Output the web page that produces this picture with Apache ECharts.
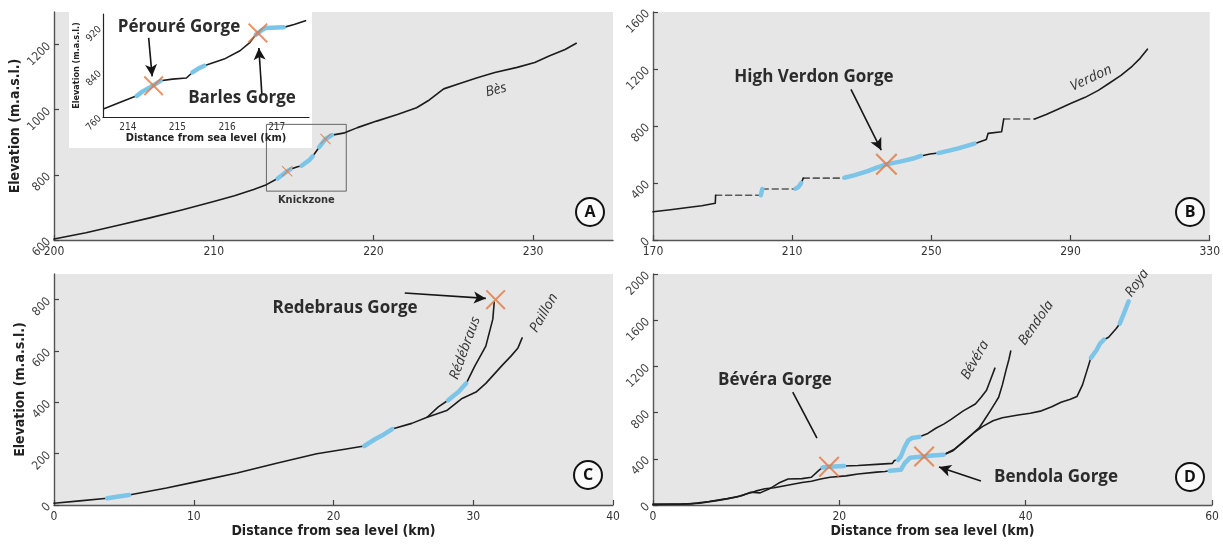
<!DOCTYPE html>
<html><head><meta charset="utf-8">
<script src="https://cdn.jsdelivr.net/npm/echarts@6/dist/echarts.min.js"></script>
<style>html,body{margin:0;padding:0;background:#fff}#c{width:1223px;height:545px}</style>
</head><body><div id="c"></div>
<script>
// ---------------- DATA ----------------
// Panel A – Bès long profile (km from sea, m a.s.l.)
const besProfile = [[200,603],[202,622],[204.1,646],[206,668],[208,692],[210,718],[211.3,736],[212.5,755],[213.3,770],[214.0,789],[214.6,811],[214.8,817],[215.2,824],[215.5,828],[216.0,846],[216.2,857],[216.6,885],[217.0,910],[217.4,922],[218.2,929],[219,945],[220.2,965],[221.5,985],[222.7,1006],[223.5,1030],[224.4,1064],[225.5,1082],[226.5,1098],[227.6,1114],[229,1130],[230.1,1145],[231,1165],[232,1185],[232.7,1204]];
const besReaches = [[214.0,214.8],[215.5,216.2],[216.6,217.4]];
const besGorges = [[214.6,811],[217.0,910]];
const knickzone = [[213.3,955],[218.3,750]];
const besTicksX = [200,210,220,230];
const besTicksY = [600,800,1000,1200];
// Inset – knickzone detail
const besDetail = [[213.52,775],[213.86,787],[214.18,798],[214.3,806],[214.46,814],[214.66,825],[214.9,828],[215.18,830],[215.3,840],[215.42,847],[215.54,852],[215.94,864],[216.26,879],[216.45,893],[216.58,908],[216.7,916],[216.78,920],[217.14,921],[217.35,926],[217.58,933]];
const besDetailReaches = [[214.18,214.66],[215.3,215.54],[216.58,217.14]];
const besDetailGorges = [[214.52,816],[216.62,911]];
const detailTicksX = [214,215,216,217];
const detailTicksY = [760,840,920];
// Panel B – Verdon (null = reservoir gap)
const verdonRiver = [[170,198],[175,212],[180,228],[184,240],[187.9,258],[188.0,314],null,
  [201.0,314],[201.4,358],null,
  [211.0,360],[211.8,372],[212.6,400],[213.2,434],null,
  [225.0,437],[228,455],[231.7,483],[234.5,510],[237.1,531],[241,550],[245.1,574],[247,590],[249.6,603],[252,610],[255.1,627],[258,645],[262.4,676],[265.8,705],[266.3,748],[270.2,760],[270.8,849],null,
  [279.7,849],[283,880],[286.4,917],[290,958],[294.2,1001],[298,1050],[301,1098],[304.5,1155],[307.7,1219],[310,1275],[312.1,1339]];
const verdonLakes = [[188.0,314],[201.0,314],null,[201.4,358],[211.0,358],null,[213.2,434],[225.0,434],null,[270.8,849],[279.7,849]];
const verdonReaches = [[201.0,201.4],[211.0,212.6],[225.0,247],[252,262.4]];
const verdonGorges = [[237.1,531]];
const verdonTicksX = [170,210,250,290,330];
const verdonTicksY = [0,400,800,1200,1600];
// Panel C – Paillon & Rédébraus
const paillon = [[0,7],[1.84,16],[3.81,26],[4.5,32],[5.37,39],[8.05,66],[10.3,92],[13.1,125],[16.0,164],[18.8,200],[20.8,217],[22.2,230],[23.0,257],[23.6,275],[24.2,296],[25.6,318],[26.7,342],[28.1,368],[29.2,415],[30.2,440],[30.9,474],[31.5,510],[32.1,546],[32.7,580],[33.2,612],[33.5,651]];
const redebraus = [[26.7,342],[27.5,382],[28.2,408],[28.95,441],[29.5,474],[30.1,540],[30.9,619],[31.4,724],[31.5,790]];
const paillonReaches = [[3.81,5.37],[22.2,24.2]];
const redebrausReaches = [[28.2,29.5]];
const cGorges = [[31.6,800]];
const cTicksX = [0,10,20,30,40];
const cTicksY = [0,200,400,600,800];
// Panel D – Roya, Bévéra, Bendola
const roya = [[0,5],[3,8],[5,15],[7,40],[9,70],[10,95],[11,120],[12,140],[13,150],[14,165],[15,180],[16,195],[17,205],[18,225],[19,240],[20.7,252],[22,268],[24,285],[24.9,290],[25.4,296],[26.6,305],[27.0,360],[27.6,410],[28.7,417],[29.1,420],[30,428],[31.2,435],[32.3,480],[33.3,545],[34.5,630],[35.4,681],[36.5,730],[37.5,756],[39.2,779],[40.5,795],[41.7,815],[42.8,850],[43.8,889],[44.8,915],[45.5,939],[46.1,1040],[46.6,1170],[47.0,1274],[47.6,1340],[48.0,1400],[48.4,1431],[48.9,1452],[49.7,1526],[50.1,1570],[50.6,1670],[51.05,1763]];
const bendola = [[31.2,435],[32.2,470],[33.3,548],[34.2,610],[35,667],[35.6,740],[36.2,815],[36.7,880],[37.1,933],[37.5,1040],[37.9,1170],[38.2,1260],[38.4,1333]];
const bevera = [[0,5],[4,10],[6,30],[8,55],[9.5,80],[10.5,110],[11.5,105],[12.5,140],[13.5,190],[14.5,225],[16,228],[17,240],[17.8,300],[18.2,325],[18.9,332],[20.5,338],[22,342],[24,352],[25.7,360],[25.9,385],[26.3,390],[26.6,420],[27.0,500],[27.4,560],[27.8,580],[28.6,590],[29.5,620],[30.4,667],[31.2,700],[32,741],[33.3,815],[34.6,874],[35.2,930],[35.8,993],[36.3,1100],[36.7,1185]];
const royaReaches = [[25.4,31.2],[47.0,48.4],[50.1,51.05]];
const beveraReaches = [[18.2,20.5],[26.3,28.6]];
const dGorges = [[18.9,332],[29.1,420]];
const dTicksX = [0,20,40,60];
const dTicksY = [0,400,800,1200,1600,2000];

// ---------------- BUILD ----------------
const BLACK = '#1c1c1c', BLUE = '#7dc5e8', ORANGE = '#e5763f', DASH = '#5a5a5a';
const XPATH = 'path://M0,1.4L1.4,0L10,8.6L18.6,0L20,1.4L11.4,10L20,18.6L18.6,20L10,11.4L1.4,20L0,18.6L8.6,10Z';
const FONT = "'Liberation Sans Narrow','DejaVu Sans Condensed','Open Sans',sans-serif";

function split(arr){const out=[];let cur=[];arr.forEach(p=>{if(p===null){if(cur.length)out.push(cur);cur=[];}else cur.push(p);});if(cur.length)out.push(cur);return out;}
function reaches(profile, ranges){const out=[];split(profile).forEach(seg=>{ranges.forEach(r=>{const pts=seg.filter(p=>p[0]>=r[0]-1e-9&&p[0]<=r[1]+1e-9);if(pts.length>1)out.push(pts);});});return out;}
const series=[];
function line(ax,data,color,width,z,type){series.push({type:'line',xAxisIndex:ax,yAxisIndex:ax,data:data,symbol:'none',silent:true,animation:false,z:z,
  lineStyle:{color:color,width:width,type:type||'solid',cap:'round',join:'round'}});return series[series.length-1];}
function river(ax,profile,rng,z){split(profile).forEach(s=>line(ax,s,BLACK,1.6,z||3));reaches(profile,rng).forEach(s=>line(ax,s,BLUE,4.5,(z||3)+1));}
function gorges(ax,pts,size,z){const s={type:'scatter',xAxisIndex:ax,yAxisIndex:ax,data:pts,symbol:XPATH,symbolSize:size,silent:true,animation:false,z:z||6,itemStyle:{color:ORANGE}};series.push(s);return s;}
function arrows(s,list,head){s.markLine={silent:true,animation:false,symbol:['none',head===false?'none':'arrow'],symbolSize:[9,12],label:{show:false},
  lineStyle:{color:'#151515',width:1.6,type:'solid'},data:list.map(a=>[{coord:a[0]},{coord:a[1]}])};}

// A
river(0,besProfile,besReaches);
series[0].markArea={silent:true,animation:false,itemStyle:{color:'rgba(0,0,0,0)',borderColor:'#666',borderWidth:1},
  label:{show:true,position:'bottom',formatter:'Knickzone',color:'#333',fontSize:11,fontWeight:'bold',fontFamily:FONT,distance:3},
  data:[[{coord:knickzone[0]},{coord:knickzone[1]}]]};
gorges(0,besGorges,11);
// inset
river(4,besDetail,besDetailReaches,12);
const gi=gorges(4,besDetailGorges,20,15);
arrows(gi,[[[214.42,902],[214.49,833]],[[216.7,801],[216.64,884]]]);
// B
split(verdonLakes).forEach(s=>line(1,s,DASH,1.6,2,[6,4]));
river(1,verdonRiver,verdonReaches);
arrows(gorges(1,verdonGorges,22),[[[226.9,1057],[235.6,630]]]);
// C
river(2,paillon,paillonReaches);
river(2,redebraus,redebrausReaches);
arrows(gorges(2,cGorges,20),[[[25.1,826],[30.9,805]]]);
// D
river(3,roya,royaReaches);
river(3,bendola,[]);
river(3,bevera,beveraReaches);
const gd=gorges(3,dGorges,21);
gd.markLine={silent:true,animation:false,symbol:['none','none'],label:{show:false},lineStyle:{color:'#151515',width:1.6,type:'solid'},data:[[{coord:[15.0,978]},{coord:[17.6,580]}]]};
const gd2=gorges(3,[],1); arrows(gd2,[[[35.2,207],[30.7,330]]]);

const plain=v=>String(v);
const axisLine={show:true,lineStyle:{color:'#555',width:1.4}};
const tick={show:true,inside:true,length:5,lineStyle:{color:'#444',width:1.2}};
function xAx(g,ticks,max,extra){return Object.assign({type:'value',gridIndex:g,min:ticks[0],max:max,interval:ticks[1]-ticks[0],axisLine:axisLine,axisTick:tick,splitLine:{show:false},
  axisLabel:{color:'#333',fontSize:12,fontFamily:FONT,margin:6,formatter:plain,showMaxLabel:max===ticks[ticks.length-1]}},extra||{});}
function yAx(g,ticks,max,extra){return Object.assign({type:'value',gridIndex:g,min:ticks[0],max:max,interval:ticks[1]-ticks[0],axisLine:axisLine,axisTick:tick,splitLine:{show:false},
  axisLabel:{color:'#444',fontSize:12,fontFamily:FONT,rotate:45,margin:5,formatter:plain,showMaxLabel:max===ticks[ticks.length-1]}},extra||{});}
const yName={name:'Elevation (m.a.s.l.)',nameLocation:'middle',nameGap:25,nameTextStyle:{fontSize:14,fontWeight:'bold',color:'#222',fontFamily:FONT}};
const xName={name:'Distance from sea level (km)',nameLocation:'middle',nameGap:19,nameTextStyle:{fontSize:14,fontWeight:'bold',color:'#222',fontFamily:FONT}};
const bg={show:true,backgroundColor:'#e6e6e6',borderWidth:0};
const grids=[
  Object.assign({left:54,top:12,width:559,height:228},bg),
  Object.assign({left:653,top:12,width:561,height:228},bg),
  Object.assign({left:54,top:274,width:559,height:231},bg),
  Object.assign({left:653,top:274,width:559,height:231},bg),
  {left:103,top:14,width:206,height:103,show:false}
];
const insetAxLine={show:true,lineStyle:{color:'#222',width:1.2}};
const xAxes=[
  xAx(0,besTicksX,235),
  xAx(1,verdonTicksX,330),
  xAx(2,cTicksX,40,xName),
  xAx(3,dTicksX,60,xName),
  {type:'value',gridIndex:4,min:213.5,max:217.65,interval:0.5,z:8,axisLine:insetAxLine,axisTick:{show:false},splitLine:{show:false},
   axisLabel:{color:'#333',fontSize:10,fontFamily:FONT,margin:5,showMinLabel:false,showMaxLabel:false,formatter:v=>detailTicksX.includes(Math.round(v*100)/100)?String(v):''},
   name:'Distance from sea level (km)',nameLocation:'middle',nameGap:15,nameTextStyle:{fontSize:11,fontWeight:'bold',color:'#222',fontFamily:FONT}}
];
const yAxes=[
  yAx(0,besTicksY,1300,yName),
  yAx(1,verdonTicksY,1600),
  yAx(2,cTicksY,900,yName),
  yAx(3,dTicksY,2000),
  {type:'value',gridIndex:4,min:760,max:945,interval:80,z:8,axisLine:insetAxLine,axisTick:{show:false},splitLine:{show:false},
   axisLabel:{color:'#333',fontSize:10,fontFamily:FONT,rotate:45,margin:3,showMaxLabel:false,formatter:v=>detailTicksY.includes(v)?String(v):''},
   name:'Elevation (m.a.s.l.)',nameLocation:'middle',nameGap:20,nameTextStyle:{fontSize:9,fontWeight:'bold',color:'#222',fontFamily:FONT}}
];

function txt(x,y,t,font,rot,color){return {type:'text',x:x,y:y,rotation:(rot||0)*Math.PI/180,z:20,silent:true,
  style:{text:t,font:font,fill:color||'#2b2b2b',align:'center',verticalAlign:'middle',textAlign:'center',textVerticalAlign:'middle'}};}
const BOLD="bold 17px 'Open Sans',sans-serif";
const IT="italic 14px 'Open Sans',sans-serif";
function badge(x,y,t){return [{type:'circle',z:20,silent:true,shape:{cx:x,cy:y,r:14},style:{fill:'#fafafa',stroke:'#111',lineWidth:2}},
  txt(x,y+0.5,t,"bold 16px 'Open Sans',sans-serif",0,'#111')];}
const graphic=[
  {type:'rect',z:1,silent:true,shape:{x:69,y:12,width:243,height:136},style:{fill:'#ffffff'}},
  txt(179,27,'Pérouré Gorge',BOLD),
  txt(242,98,'Barles Gorge',BOLD),
  txt(814,77,'High Verdon Gorge',BOLD),
  txt(345,308,'Redebraus Gorge',BOLD),
  txt(775,380,'Bévéra Gorge',BOLD),
  txt(1056,477,'Bendola Gorge',BOLD),
  txt(496,90,'Bès',IT,15,'#333'),
  txt(1091,78,'Verdon',IT,25,'#333'),
  txt(465,348,'Rédébraus',IT,70,'#333'),
  txt(544,313,'Paillon',IT,60,'#333'),
  txt(975,360,'Bévéra',IT,60,'#333'),
  txt(1036,323,'Bendola',IT,55,'#333'),
  txt(1137,283,'Roya',IT,55,'#333'),
  ...badge(590,212,'A'),...badge(1190,212,'B'),...badge(588,475,'C'),...badge(1190,477,'D')
];

const chart=echarts.init(document.getElementById('c'),null,{renderer:'canvas'});
chart.setOption({animation:false,backgroundColor:'#fff',textStyle:{fontFamily:FONT},grid:grids,xAxis:xAxes,yAxis:yAxes,series:series,graphic:graphic});
</script></body></html>
